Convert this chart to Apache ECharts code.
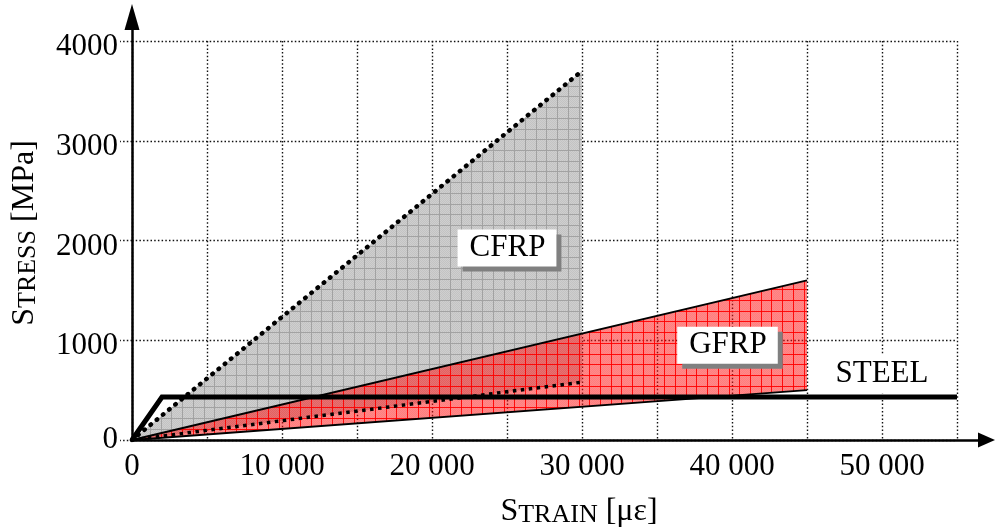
<!DOCTYPE html>
<html>
<head>
<meta charset="utf-8">
<script src="https://cdn.jsdelivr.net/npm/echarts@6/dist/echarts.min.js"></script>
<style>
  html, body { margin: 0; padding: 0; background: #fff; }
  #chart { width: 995px; height: 531px; }
</style>
</head>
<body>
<div id="chart"></div>
<script>
// Stress–strain envelopes: strain in µε, stress in MPa
const cfrpUpper = [[0, 0], [30000, 3700]];
const cfrpLower = [[0, 0], [30000, 580]];
const gfrpUpper = [[0, 0], [45000, 1600]];
const gfrpLower = [[0, 0], [45000, 500]];
const steel = [[0, 0], [2000, 430], [55000, 430]];

const xTickLabels = [0, 10000, 20000, 30000, 40000, 50000];
const yTickLabels = [0, 1000, 2000, 3000, 4000];

const noteNames = ['CFRP', 'GFRP', 'STEEL'];
const noteAnchors = [[25000, 1925], [39700, 950], [50000, 660]];

const SERIF = '"Liberation Serif", "Times New Roman", serif';

// Checkered hatch tile used to fill the material envelopes
function hatch(base, dither, line) {
  const size = 75, n = 7;
  const c = document.createElement('canvas');
  c.width = c.height = size;
  const g = c.getContext('2d');
  g.fillStyle = base;
  g.fillRect(0, 0, size, size);
  if (dither) {
    g.fillStyle = dither;
    for (let y = 0; y < size; y++) {
      for (let x = (y % 2); x < size; x += 2) g.fillRect(x, y, 1, 1);
    }
  }
  g.fillStyle = line;
  for (let i = 0; i < n; i++) {
    const p = Math.round(i * size / n);
    g.fillRect(p, 0, 1, size);
    g.fillRect(0, p, size, 1);
  }
  return { image: c, repeat: 'repeat' };
}

const grayFill = hatch('#cfcfcf', '#c3c3c3', '#a2a2a2');
const redFill = hatch('rgba(255,20,20,0.5)', 'rgba(255,0,0,0.08)', 'rgba(255,0,0,0.9)');

function polygonSeries(upper, lower, fill, z) {
  const pts = upper.concat(lower.slice(1).reverse());
  return {
    type: 'custom',
    xAxisIndex: 0, yAxisIndex: 0,
    silent: true, z: z,
    data: [0],
    renderItem: function (params, api) {
      return {
        type: 'polygon',
        shape: { points: pts.map(function (p) { return api.coord(p); }) },
        style: { fill: fill, stroke: null }
      };
    }
  };
}

function lineSeries(data, style, z) {
  return {
    type: 'line',
    xAxisIndex: 0, yAxisIndex: 0,
    data: data,
    showSymbol: false, symbol: 'none',
    silent: true, z: z,
    lineStyle: style
  };
}

function spaced(v) {
  return String(v).replace(/\B(?=(\d{3})+(?!\d))/g, ' ');
}

const gridLine = { color: '#111', width: 1.4, type: [1.5, 2.2] };

const boxedLabel = {
  show: true, position: 'inside',
  fontFamily: SERIF, fontSize: 31, color: '#000',
  backgroundColor: '#fff', padding: [3, 11, 3, 12], lineHeight: 31,
  shadowColor: '#808080', shadowBlur: 0, shadowOffsetX: 5, shadowOffsetY: 5
};
const plainLabel = {
  show: true, position: 'inside',
  fontFamily: SERIF, fontSize: 31, color: '#000',
  backgroundColor: '#fff', padding: [3, 2, 5, 2], lineHeight: 31
};

const option = {
  animation: false,
  backgroundColor: '#fff',
  grid: [
    { left: 132, top: 41, width: 825, height: 399 },
    { left: 132, top: 17, width: 854.5, height: 423 }
  ],
  xAxis: [
    {
      gridIndex: 0, type: 'value', min: 0, max: 55000, interval: 5000,
      axisLine: { show: false },
      axisTick: { show: false },
      splitLine: { show: true, lineStyle: gridLine },
      axisLabel: {
        customValues: xTickLabels,
        formatter: spaced,
        margin: 11,
        fontFamily: SERIF, fontSize: 31, color: '#000'
      }
    },
    {
      gridIndex: 1, type: 'value', min: 0, max: 56967, z: 10,
      axisLine: {
        show: true, onZero: false,
        symbol: ['none', 'triangle'], symbolSize: [15, 17],
        lineStyle: { color: '#000', width: 2.5 }
      },
      axisTick: { show: false }, axisLabel: { show: false }, splitLine: { show: false }
    }
  ],
  yAxis: [
    {
      gridIndex: 0, type: 'value', min: 0, max: 4000, interval: 500,
      axisLine: { show: false },
      axisTick: {
        show: true, customValues: yTickLabels, length: 12,
        lineStyle: { color: '#111', width: 1.4, type: [1.5, 2.2] }
      },
      splitLine: { show: true, lineStyle: gridLine },
      axisLabel: {
        customValues: yTickLabels,
        formatter: function (v) { return v === 0 ? '{z|0}' : '{n|' + v + '}'; },
        margin: 14,
        verticalAlign: 'top',
        rich: {
          n: { fontFamily: SERIF, fontSize: 31, color: '#000', lineHeight: 12 },
          z: { fontFamily: SERIF, fontSize: 31, color: '#000', lineHeight: 0 }
        }
      }
    },
    {
      gridIndex: 1, type: 'value', min: 0, max: 4240, z: 10,
      axisLine: {
        show: true, onZero: false,
        symbol: ['none', 'triangle'], symbolSize: [15, 26],
        lineStyle: { color: '#000', width: 2.5 }
      },
      axisTick: { show: false }, axisLabel: { show: false }, splitLine: { show: false }
    }
  ],
  graphic: [
    {
      type: 'text', x: 579, y: 512, silent: true,
      style: {
        text: '{a|S}{b|TRAIN}{a| [με]}',
        align: 'center', verticalAlign: 'middle',
        rich: {
          a: { fontFamily: SERIF, fontSize: 32, fill: '#000', verticalAlign: 'bottom' },
          b: { fontFamily: SERIF, fontSize: 26, fill: '#000', verticalAlign: 'bottom' }
        }
      }
    },
    {
      type: 'text', x: 25, y: 233, rotation: Math.PI / 2, silent: true,
      style: {
        text: '{a|S}{b|TRESS}{a| [MPa]}',
        align: 'center', verticalAlign: 'middle',
        rich: {
          a: { fontFamily: SERIF, fontSize: 32, fill: '#000', verticalAlign: 'bottom' },
          b: { fontFamily: SERIF, fontSize: 26, fill: '#000', verticalAlign: 'bottom' }
        }
      }
    }
  ],
  series: [
    polygonSeries(cfrpUpper, cfrpLower, grayFill, 1),
    polygonSeries(gfrpUpper, gfrpLower, redFill, 2),
    lineSeries(gfrpUpper, { color: '#000', width: 2 }, 3),
    lineSeries(gfrpLower, { color: '#000', width: 2 }, 3),
    lineSeries(cfrpLower, { color: '#000', width: 3.5, type: [3.5, 4.5], cap: 'butt' }, 4),
    lineSeries(cfrpUpper, { color: '#000', width: 4.5, type: [0.5, 7.5], cap: 'round' }, 4),
    lineSeries(steel, { color: '#000', width: 5, join: 'miter' }, 5),
    {
      type: 'scatter',
      xAxisIndex: 0, yAxisIndex: 0,
      symbolSize: 0, silent: true, z: 6,
      itemStyle: { opacity: 1 },
      data: noteNames.map(function (name, i) {
        return {
          name: name,
          value: noteAnchors[i],
          label: Object.assign({ formatter: name }, name === 'STEEL' ? plainLabel : boxedLabel)
        };
      })
    }
  ]
};

const chart = echarts.init(document.getElementById('chart'), null, { renderer: 'canvas' });
chart.setOption(option);
</script>
</body>
</html>
